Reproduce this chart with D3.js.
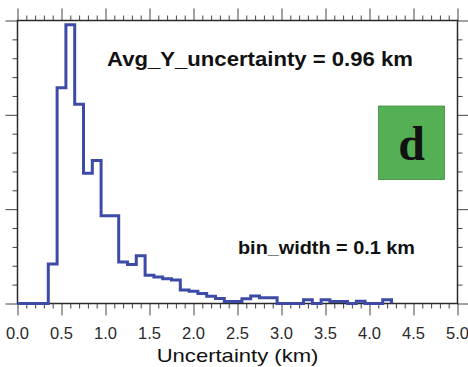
<!DOCTYPE html>
<html>
<head>
<meta charset="utf-8">
<script src="https://cdn.jsdelivr.net/npm/d3@7"></script>
<style>
  html, body { margin: 0; padding: 0; background: #fff; }
  svg { display: block; }
</style>
</head>
<body>
<svg id="chart" width="468" height="367"></svg>
<script>
// Histogram of Y uncertainty, bin width 0.1 km (bins centred on 0.0, 0.1, ... 4.2)
const binCenters = d3.range(0, 43).map(i => +(i * 0.1).toFixed(1));
const binValues = [
  0, 0, 0, 0, 2.1, 11.44, 14.77, 10.56, 6.9, 7.58,      // 0.0 - 0.9
  4.65, 4.65, 2.2, 2.07, 2.53, 1.5, 1.41, 1.31, 1.24, 0.71, // 1.0 - 1.9
  0.65, 0.53, 0.39, 0.27, 0.1, 0.1, 0.25, 0.4, 0.3, 0.3,  // 2.0 - 2.9
  0, 0, 0, 0.2, 0, 0.2, 0.1, 0.1, 0, 0.12,               // 3.0 - 3.9
  0, 0, 0.2                                              // 4.0 - 4.2
];
const binWidth = 0.1;
const xTickLabels = ["0.0","0.5","1.0","1.5","2.0","2.5","3.0","3.5","4.0","4.5","5.0"];
const xTitle = "Uncertainty (km)";
const avgLabel = "Avg_Y_uncertainty = 0.96 km";
const binLabel = "bin_width = 0.1 km";
const panelLetter = "d";

const svg = d3.select("#chart");
const frame = { left: 17.5, right: 457.5, top: 20.5, bottom: 303.5 };

const x = d3.scaleLinear().domain([0, 5]).range([frame.left, frame.right]);
const y = d3.scaleLinear().domain([0, 15]).range([frame.bottom, frame.top]);

const tickColor = "#444";
const minorLen = 5, majorLen = 12;

// x ticks: minor every 0.1, major every 0.5 (bottom and top, pointing outward)
const xMinor = d3.range(0, 51).map(i => i / 10);
const isMajorX = v => Math.abs(v * 2 - Math.round(v * 2)) < 1e-6;

const bottomAxis = d3.axisBottom(x).tickValues(xMinor).tickFormat("").tickSize(minorLen);
const gb = svg.append("g").attr("transform", `translate(0,${frame.bottom})`).call(bottomAxis);
const topAxis = d3.axisTop(x).tickValues(xMinor).tickFormat("").tickSize(minorLen);
const gt = svg.append("g").attr("transform", `translate(0,${frame.top})`).call(topAxis);
[gb, gt].forEach((g, k) => {
  g.select(".domain").remove();
  g.selectAll(".tick line")
    .attr("stroke", tickColor).attr("stroke-width", 1)
    .attr("y2", d => (isMajorX(d) ? majorLen : minorLen) * (k === 0 ? 1 : -1));
});

// y ticks: minor every 1, major every 5 (left and right, pointing outward)
const yMinor = d3.range(0, 16);
const leftAxis = d3.axisLeft(y).tickValues(yMinor).tickFormat("").tickSize(minorLen);
const gl = svg.append("g").attr("transform", `translate(${frame.left},0)`).call(leftAxis);
const rightAxis = d3.axisRight(y).tickValues(yMinor).tickFormat("").tickSize(minorLen);
const gr = svg.append("g").attr("transform", `translate(${frame.right},0)`).call(rightAxis);
[gl, gr].forEach((g, k) => {
  g.select(".domain").remove();
  g.selectAll(".tick line")
    .attr("stroke", tickColor).attr("stroke-width", 1)
    .attr("x2", d => (d % 5 === 0 ? majorLen : minorLen) * (k === 0 ? -1 : 1));
});

// tick labels
svg.append("g").selectAll("text")
  .data(xTickLabels)
  .join("text")
  .attr("x", d => x(+d))
  .attr("y", 338.5)
  .attr("text-anchor", "middle")
  .attr("font-family", "'Liberation Sans', Arial, sans-serif")
  .attr("font-size", 16.5)
  .attr("fill", "#2a2a2a")
  .text(d => d);

// axis title
svg.append("text")
  .attr("x", 156.7).attr("y", 361.7)
  .attr("textLength", 161.7).attr("lengthAdjust", "spacingAndGlyphs")
  .attr("font-family", "'Liberation Sans', Arial, sans-serif")
  .attr("font-size", 19)
  .attr("fill", "#111")
  .text(xTitle);

// plot frame
svg.append("rect")
  .attr("x", frame.left).attr("y", frame.top)
  .attr("width", frame.right - frame.left).attr("height", frame.bottom - frame.top)
  .attr("fill", "none").attr("stroke", "#2a2a2a").attr("stroke-width", 1.5);

// stepped histogram outline
const pts = [[0, 0]];
binCenters.forEach((c, i) => {
  const x0 = Math.max(0, c - binWidth / 2), x1 = c + binWidth / 2;
  pts.push([x0, binValues[i]], [x1, binValues[i]]);
});
pts.push([binCenters[binCenters.length - 1] + binWidth / 2, 0]);

const line = d3.line().x(d => x(d[0])).y(d => y(d[1]));
svg.append("path")
  .attr("d", line(pts))
  .attr("fill", "none")
  .attr("stroke", "#3d4ba6")
  .attr("stroke-width", 3)
  .attr("stroke-linejoin", "miter");

// annotations
svg.append("text")
  .attr("x", 107).attr("y", 65.5)
  .attr("textLength", 306).attr("lengthAdjust", "spacingAndGlyphs")
  .attr("font-family", "'Liberation Sans', Arial, sans-serif")
  .attr("font-weight", "bold").attr("font-size", 19.5)
  .attr("fill", "#111")
  .text(avgLabel);

svg.append("text")
  .attr("x", 238).attr("y", 254)
  .attr("textLength", 177).attr("lengthAdjust", "spacingAndGlyphs")
  .attr("font-family", "'Liberation Sans', Arial, sans-serif")
  .attr("font-weight", "bold").attr("font-size", 19)
  .attr("fill", "#111")
  .text(binLabel);

// panel letter box
svg.append("rect")
  .attr("x", 378.5).attr("y", 106)
  .attr("width", 66).attr("height", 73.5)
  .attr("fill", "#55b055").attr("stroke", "#3e8e3e").attr("stroke-width", 0.8);

svg.append("text")
  .attr("x", 411.5).attr("y", 160)
  .attr("text-anchor", "middle")
  .attr("font-family", "'Liberation Serif', 'Times New Roman', serif")
  .attr("font-weight", "bold").attr("font-size", 48)
  .attr("fill", "#111")
  .text(panelLetter);
</script>
</body>
</html>
